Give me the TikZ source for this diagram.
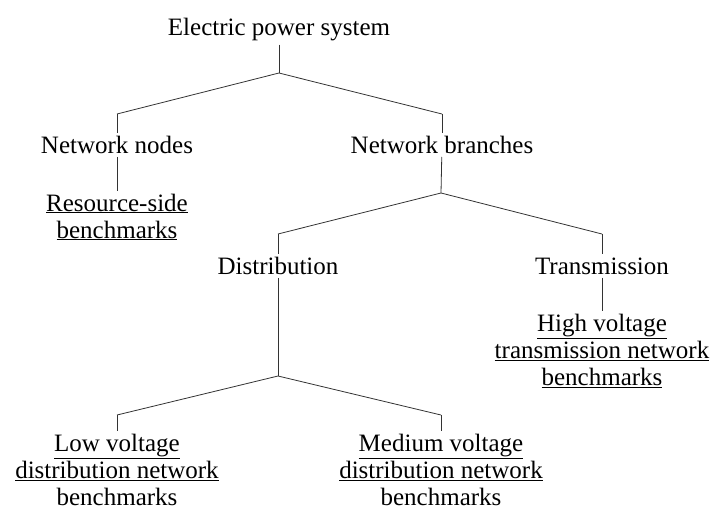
\documentclass[tikz,border=0pt]{standalone}
\usepackage{fontspec}
\setmainfont{Liberation Serif}

\begin{document}
\begin{tikzpicture}
  [x=1pt,y=-1pt,
   item/.style={align=center,inner sep=3pt,font=\fontsize{25}{27}\selectfont}]
  \useasboundingbox (0,0) rectangle (714,511);

  \node[item] (eps) at (279,30) {Electric power system};
  \coordinate (j1) at (279,73);
  \coordinate (j1l) at (117,114);
  \coordinate (j1r) at (442,114);

  \node[item] (nodes) at (117,145) {Network nodes};
  \node[item] (branches) at (442,145) {Network branches};
  \node[item] (resource) at (117,217) {\underline{Resource-side}\\\underline{benchmarks}};

  \coordinate (j2) at (441,193);
  \coordinate (j2l) at (278,234);
  \coordinate (j2r) at (602,234);

  \node[item] (dist) at (278,266) {Distribution};
  \node[item] (trans) at (602,266) {Transmission};
  \node[item] (high) at (602,351) {\underline{High voltage}\\\underline{transmission network}\\\underline{benchmarks}};

  \coordinate (j3) at (278,376);
  \coordinate (j3l) at (117,415);
  \coordinate (j3r) at (441,415);

  \node[item] (low) at (117,470) {\underline{Low voltage}\\\underline{distribution network}\\benchmarks};
  \node[item] (medium) at (441,470) {\underline{Medium voltage}\\\underline{distribution network}\\benchmarks};

  \foreach \from/\to in {
    eps/j1, j1/j1l, j1l/nodes, j1/j1r, j1r/branches,
    nodes/resource, branches/j2,
    j2/j2l, j2l/dist, j2/j2r, j2r/trans,
    trans/high, dist/j3,
    j3/j3l, j3l/low, j3/j3r, j3r/medium}
  \draw[line width=0.8pt,black!80] (\from) -- (\to);
\end{tikzpicture}
\end{document}
